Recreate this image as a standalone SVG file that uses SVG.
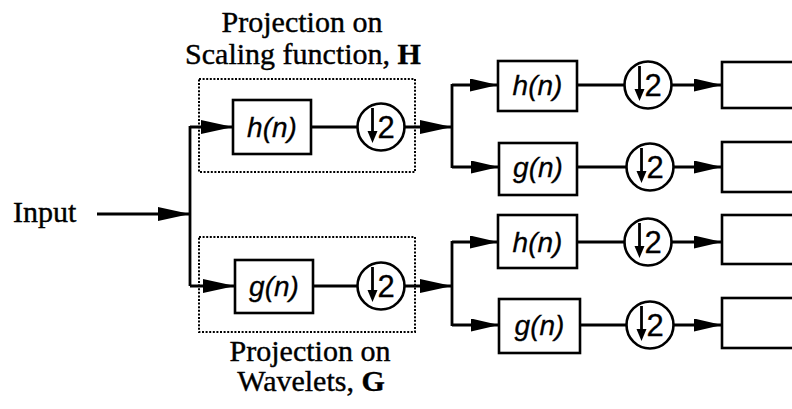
<svg xmlns="http://www.w3.org/2000/svg" width="792" height="409" viewBox="0 0 792 409">
<style>
.bg{fill:#fff}
.box{fill:#fff;stroke:#000;stroke-width:2.6}
.circ{fill:#fff;stroke:#000;stroke-width:2.6}
.dot{fill:none;stroke:#000;stroke-width:2;stroke-dasharray:2 1.6}
.ln{fill:none;stroke:#000;stroke-width:2.8}
.lbl{font-family:"Liberation Serif","Times New Roman",serif;font-size:30px;fill:#000;stroke:#000;stroke-width:0.4}
.fn{font-family:"Liberation Sans",Arial,sans-serif;font-style:italic;font-size:28px;fill:#000;text-anchor:middle;stroke:#000;stroke-width:0.3}
.two{font-family:"Liberation Sans",Arial,sans-serif;font-size:31px;fill:#000;stroke:#000;stroke-width:0.3}
.b{font-weight:bold}
</style>
<defs>
<marker id="ab" markerUnits="userSpaceOnUse" markerWidth="32" markerHeight="14" refX="32" refY="7" orient="auto">
<path d="M0,0 L32,7 L0,14 z" fill="#000"/>
</marker>
<marker id="as" markerUnits="userSpaceOnUse" markerWidth="28" markerHeight="13" refX="28" refY="6.5" orient="auto">
<path d="M0,0 L28,6.5 L0,13 z" fill="#000"/>
</marker>
<g id="down2">
<circle class="circ" cx="0" cy="0" r="23.5"/>
<line x1="-8.5" y1="-19" x2="-8.5" y2="6" stroke="#000" stroke-width="2.8"/>
<path d="M-13.5,4 L-3.5,4 L-8.5,16 z" fill="#000"/>
<text class="two" x="-3.5" y="11">2</text>
</g>
</defs>
<rect class="bg" x="0" y="0" width="792" height="409"/>

<g id="labels">
<text class="lbl" x="302" y="32" text-anchor="middle">Projection on</text>
<text class="lbl" x="303" y="64" text-anchor="middle">Scaling function, <tspan class="b">H</tspan></text>
<text class="lbl" x="310" y="361" text-anchor="middle">Projection on</text>
<text class="lbl" x="311" y="391" text-anchor="middle">Wavelets, <tspan class="b">G</tspan></text>
<text id="input" class="lbl" x="13" y="222">Input</text>
</g>

<g id="projH">
<rect class="dot" x="199" y="79" width="216" height="93"/>
</g>
<g id="projG">
<rect class="dot" x="199" y="237" width="216" height="95"/>
</g>

<g id="connectors">
<line class="ln" x1="97" y1="214" x2="190" y2="214" marker-end="url(#ab)"/>
<polyline class="ln" points="190,126 190,286"/>
<line class="ln" x1="190" y1="127" x2="233" y2="127" marker-end="url(#ab)"/>
<line class="ln" x1="190" y1="286" x2="235" y2="286" marker-end="url(#ab)"/>
<line class="ln" x1="311" y1="127" x2="358" y2="127"/>
<line class="ln" x1="313" y1="286" x2="358" y2="286"/>
<line class="ln" x1="404" y1="127" x2="452" y2="127" marker-end="url(#ab)"/>
<line class="ln" x1="404" y1="286" x2="452" y2="286" marker-end="url(#ab)"/>
<polyline class="ln" points="452,84 452,168"/>
<polyline class="ln" points="452,241 452,326"/>
<line class="ln" x1="452" y1="85" x2="498" y2="85" marker-end="url(#as)"/>
<line class="ln" x1="452" y1="167" x2="499" y2="167" marker-end="url(#as)"/>
<line class="ln" x1="452" y1="242" x2="498" y2="242" marker-end="url(#as)"/>
<line class="ln" x1="452" y1="325" x2="499" y2="325" marker-end="url(#as)"/>
<line class="ln" x1="577" y1="85" x2="625" y2="85"/>
<line class="ln" x1="577" y1="167" x2="627" y2="167"/>
<line class="ln" x1="577" y1="242" x2="625" y2="242"/>
<line class="ln" x1="580" y1="325" x2="627" y2="325"/>
<line class="ln" x1="671" y1="85" x2="722" y2="85" marker-end="url(#as)"/>
<line class="ln" x1="673" y1="167" x2="722" y2="167" marker-end="url(#as)"/>
<line class="ln" x1="671" y1="242" x2="722" y2="242" marker-end="url(#as)"/>
<line class="ln" x1="673" y1="325" x2="722" y2="325" marker-end="url(#as)"/>
</g>

<g id="h1"><rect class="box" x="233" y="100" width="78" height="54"/><text class="fn" x="272" y="137">h(n)</text></g>
<g id="d1"><use href="#down2" x="381" y="127"/></g>
<g id="g1"><rect class="box" x="235" y="260" width="78" height="53"/><text class="fn" x="274" y="296">g(n)</text></g>
<g id="d2"><use href="#down2" x="381" y="286"/></g>

<g id="h2"><rect class="box" x="498" y="61" width="79" height="50"/><text class="fn" x="537.5" y="95">h(n)</text></g>
<g id="d3"><use href="#down2" x="648" y="85"/></g>
<g id="o1"><rect class="box" x="722" y="62" width="90" height="46"/></g>

<g id="g2"><rect class="box" x="499" y="143" width="78" height="52"/><text class="fn" x="538" y="177">g(n)</text></g>
<g id="d4"><use href="#down2" x="650" y="167"/></g>
<g id="o2"><rect class="box" x="722" y="142" width="90" height="50"/></g>

<g id="h3"><rect class="box" x="498" y="215" width="79" height="53"/><text class="fn" x="537.5" y="252">h(n)</text></g>
<g id="d5"><use href="#down2" x="648" y="242"/></g>
<g id="o3"><rect class="box" x="722" y="215" width="90" height="49"/></g>

<g id="g3"><rect class="box" x="499" y="299" width="81" height="54"/><text class="fn" x="539.5" y="335">g(n)</text></g>
<g id="d6"><use href="#down2" x="650" y="325"/></g>
<g id="o4"><rect class="box" x="722" y="298" width="90" height="50"/></g>
</svg>
